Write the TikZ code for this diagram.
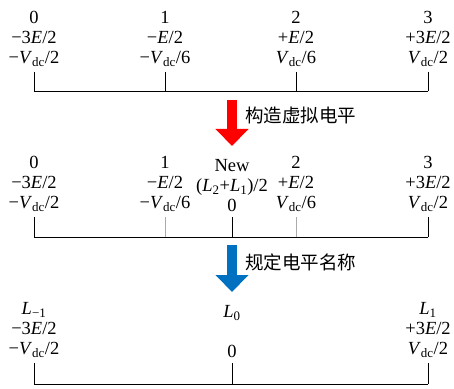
\documentclass[tikz,border=0pt]{standalone}
\usepackage{fontspec}
\setmainfont{Liberation Serif}
\newfontfamily\cjk{Noto Sans CJK SC}
\usepackage{xcolor}
\usepackage{tikz}
\usetikzlibrary{positioning,arrows.meta,calc}
\definecolor{stepRed}{HTML}{FF0000}
\definecolor{stepBlue}{HTML}{0070C0}
\definecolor{tickGray}{HTML}{ABABAB}
\newcommand{\Evar}{\textit{E}}
\newcommand{\Vdc}{\textit{V}\textsubscript{dc}}
\newcommand{\Lvar}[1]{\textit{L}\textsubscript{#1}}
\tikzset{
  lvl/.style={align=center, inner sep=0pt, anchor=south,
              font=\fontsize{18.5}{20}\selectfont},
  tick/.style={line width=0.9pt},
  softtick/.style={line width=0.9pt, draw=tickGray},
  rail/.style={line width=0.9pt},
  bigarrow/.style={line width=10pt, -{Triangle[length=17pt,width=32pt]}},
  steplabel/.style={anchor=west, inner sep=0pt, font=\cjk\fontsize{18.5}{20}\selectfont}
}
\begin{document}
\begin{tikzpicture}[x=1pt,y=1pt]
  \useasboundingbox (0,0) rectangle (454,388);

  % row 1: original levels
  \foreach \n/\x in {0/34,1/165,2/296,3/428}{
    \coordinate (a\n) at (\x,316);
    \coordinate (ab\n) at (\x,297);
  }
  \node[lvl, above=5pt of a0] (la0) {0\\−3\Evar/2\\−\Vdc/2};
  \node[lvl, above=5pt of a1] (la1) {1\\−\Evar/2\\−\Vdc/6};
  \node[lvl, above=5pt of a2] (la2) {2\\+\Evar/2\\\Vdc/6};
  \node[lvl, above=5pt of a3] (la3) {3\\+3\Evar/2\\\Vdc/2};
  \foreach \n in {0,...,3}{\draw[tick] (a\n) -- (ab\n);}
  \draw[rail] (ab0) -- (ab3);

  % arrow 1
  \coordinate (r1) at (232,288);
  \coordinate (r2) at (232,242);
  \draw[bigarrow, stepRed] (r1) -- (r2);
  \node[steplabel] (t1) at (245,273) {构造虚拟电平};

  % row 2: with virtual level
  \foreach \n/\x in {0/34,1/165,N/232,2/296,3/428}{
    \coordinate (b\n) at (\x,171);
    \coordinate (bb\n) at (\x,151);
  }
  \node[lvl, above=5pt of b0] (lb0) {0\\−3\Evar/2\\−\Vdc/2};
  \node[lvl, above=5pt of b1] (lb1) {1\\−\Evar/2\\−\Vdc/6};
  \node[lvl, above=5pt of bN] (lbN) {New\\(\Lvar{2}+\Lvar{1})/2\\0};
  \node[lvl, above=5pt of b2] (lb2) {2\\+\Evar/2\\\Vdc/6};
  \node[lvl, above=5pt of b3] (lb3) {3\\+3\Evar/2\\\Vdc/2};
  \foreach \n in {0,N,3}{\draw[tick] (b\n) -- (bb\n);}
  \foreach \n in {1,2}{\draw[softtick] (b\n) -- (bb\n);}
  \draw[rail] (bb0) -- (bb3);

  % arrow 2
  \coordinate (s1) at (232,143);
  \coordinate (s2) at (232,96);
  \draw[bigarrow, stepBlue] (s1) -- (s2);
  \node[steplabel] (t2) at (245,126) {规定电平名称};

  % row 3: renamed levels
  \foreach \n/\x in {m/34,z/232,p/428}{
    \coordinate (c\n) at (\x,25);
    \coordinate (cb\n) at (\x,4);
  }
  \node[lvl, above=5pt of cm] (lcm) {\Lvar{−1}\\−3\Evar/2\\−\Vdc/2};
  \node[lvl, above=5pt of cz] (lcz) {\Lvar{0}\\\mbox{}\\0};
  \node[lvl, above=5pt of cp] (lcp) {\Lvar{1}\\+3\Evar/2\\\Vdc/2};
  \foreach \n in {m,z,p}{\draw[tick] (c\n) -- (cb\n);}
  \draw[rail] (cbm) -- (cbp);
\end{tikzpicture}
\end{document}
